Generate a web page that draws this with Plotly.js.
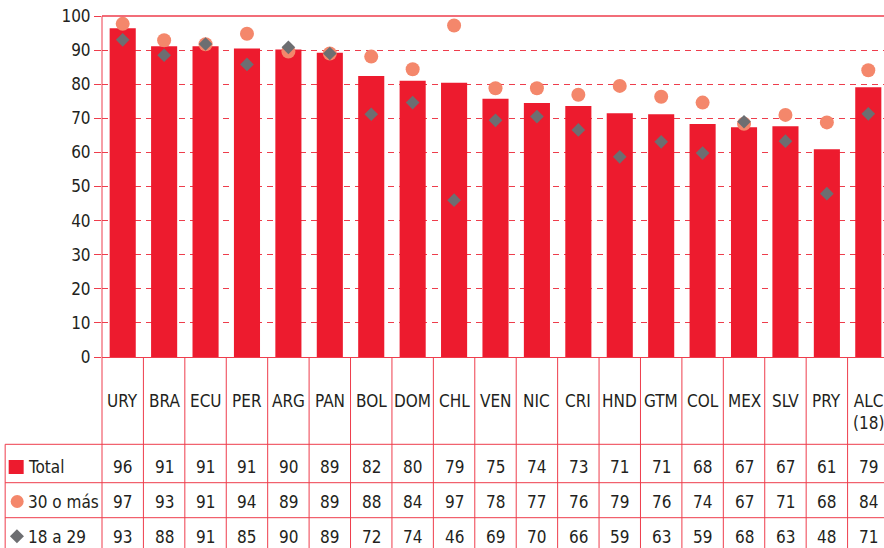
<!DOCTYPE html>
<html><head><meta charset="utf-8">
<script src="https://cdn.plot.ly/plotly-3.0.1.min.js"></script>
<style>html,body{margin:0;padding:0;background:#fff;overflow:hidden}</style>
</head><body><div id="chart" style="width:889px;height:548px"></div>
<script>
// ---- data ----
const categories = ['URY','BRA','ECU','PER','ARG','PAN','BOL','DOM','CHL','VEN','NIC','CRI','HND','GTM','COL','MEX','SLV','PRY','ALC (18)'];
const categoryLabels = ['URY','BRA','ECU','PER','ARG','PAN','BOL','DOM','CHL','VEN','NIC','CRI','HND','GTM','COL','MEX','SLV','PRY','ALC<br>(18)'];
const totalValues   = [96.4, 91.1, 91.1, 90.5, 90.2, 89.2, 82.4, 81.0, 80.4, 75.7, 74.5, 73.6, 71.5, 71.2, 68.3, 67.4, 67.7, 60.9, 79.1];
const olderValues   = [97.7, 92.9, 91.7, 94.8, 89.6, 89.0, 88.1, 84.4, 97.2, 78.8, 78.8, 76.9, 79.5, 76.3, 74.6, 68.4, 71.0, 68.8, 84.1];
const youngerValues = [93.0, 88.5, 91.8, 85.8, 90.8, 89.0, 71.2, 74.6, 46.0, 69.4, 70.5, 66.6, 58.7, 63.1, 59.8, 69.0, 63.3, 47.9, 71.3];
const tableTotal   = [96, 91, 91, 91, 90, 89, 82, 80, 79, 75, 74, 73, 71, 71, 68, 67, 67, 61, 79];
const tableOlder   = [97, 93, 91, 94, 89, 89, 88, 84, 97, 78, 77, 76, 79, 76, 74, 67, 71, 68, 84];
const tableYounger = [93, 88, 91, 85, 90, 89, 72, 74, 46, 69, 70, 66, 59, 63, 59, 68, 63, 48, 71];
const rowLabels = ['Total', '30 o más', '18 a 29'];
const yTicks = [0,10,20,30,40,50,60,70,80,90,100];

// ---- style ----
const RED = '#ED1B2E', SALMON = '#F4876B', GREY = '#6D6E71', LINE = '#EE3D4C', TXT = '#231F20';
const FONT = '"Liberation Sans Narrow", "Arial Narrow", "DejaVu Sans Condensed", sans-serif';
const W = 889, H = 548, L = 102.3, T = 16, B = 191;
const PW = W - L, PH = H - T - B;
const px2x = px => (px - L) / PW;
const py2y = py => (H - B - py) / PH;
const n = categories.length;

const shapes = [];
const annotations = [];
// top border
shapes.push({type:'line', xref:'paper', yref:'paper', x0:0, x1:1, y0:1, y1:1, line:{color:LINE, width:1.5}});
// left axis line through the table
shapes.push({type:'line', xref:'paper', yref:'paper', x0:0, x1:0, y0:1, y1:py2y(H), line:{color:LINE, width:1}});
// column separators in table
for (let i = 1; i < n; i++) {
  const xp = i / n;
  shapes.push({type:'line', xref:'paper', yref:'paper', x0:xp, x1:xp, y0:0, y1:py2y(H), line:{color:LINE, width:1}});
}
// row lines
[444.3, 482.7, 517.7].forEach(py => {
  shapes.push({type:'line', xref:'paper', yref:'paper', x0:px2x(5.5), x1:1, y0:py2y(py), y1:py2y(py), line:{color:LINE, width:1}});
});
// table left border
shapes.push({type:'line', xref:'paper', yref:'paper', x0:px2x(5.5), x1:px2x(5.5), y0:py2y(444.3), y1:py2y(H), line:{color:LINE, width:1}});
// legend symbols
shapes.push({type:'rect', xref:'paper', yref:'paper', x0:px2x(9), x1:px2x(24), y0:py2y(474), y1:py2y(460), fillcolor:RED, line:{width:0}});
shapes.push({type:'circle', xref:'paper', yref:'paper', x0:px2x(11), x1:px2x(24), y0:py2y(508), y1:py2y(495), fillcolor:SALMON, line:{width:0}});
{
  const cx = 17.3, cy = 536.3, r = 7;
  shapes.push({type:'path', xref:'paper', yref:'paper',
    path:`M ${px2x(cx)} ${py2y(cy-r)} L ${px2x(cx+r)} ${py2y(cy)} L ${px2x(cx)} ${py2y(cy+r)} L ${px2x(cx-r)} ${py2y(cy)} Z`,
    fillcolor:GREY, line:{width:0}});
}

// header labels
categories.forEach((c, i) => {
  annotations.push({xref:'x', yref:'paper', x:c, y:py2y(389), yanchor:'top', xanchor:'center',
    text:categoryLabels[i], showarrow:false, font:{family:FONT, size:17, color:TXT}});
});
// table values
const rows = [tableTotal, tableOlder, tableYounger];
const rowY = [466.7, 501.7, 536.7];
rows.forEach((arr, r) => {
  arr.forEach((v, i) => {
    annotations.push({xref:'x', yref:'paper', x:categories[i], y:py2y(rowY[r]), yanchor:'middle', xanchor:'center',
      text:String(v), showarrow:false, font:{family:FONT, size:17, color:TXT}});
  });
  annotations.push({xref:'paper', yref:'paper', x:px2x(26), y:py2y(rowY[r]), yanchor:'middle', xanchor:'left',
    text:rowLabels[r], showarrow:false, font:{family:FONT, size:17, color:TXT}});
});

const traces = [
  {type:'bar', x:categories, y:totalValues, marker:{color:RED}, width:0.63, name:'Total', hoverinfo:'y'},
  {type:'scatter', mode:'markers', x:categories, y:olderValues, marker:{color:SALMON, size:14, symbol:'circle'}, name:'30 o más'},
  {type:'scatter', mode:'markers', x:categories, y:youngerValues, marker:{color:GREY, size:10.5, symbol:'diamond'}, name:'18 a 29'}
];

const layout = {
  width:W, height:H,
  margin:{l:L, r:0, t:T, b:B, pad:0},
  paper_bgcolor:'#fff', plot_bgcolor:'#fff',
  showlegend:false,
  xaxis:{type:'category', range:[-0.5, n-0.5], showticklabels:false, ticks:'', showgrid:false,
    zeroline:false, showline:true, linecolor:LINE, linewidth:1, fixedrange:true},
  yaxis:{range:[0,100], tickvals:yTicks, ticks:'outside', ticklen:7, tickcolor:LINE, tickwidth:1,
    showgrid:true, gridcolor:LINE, griddash:'6px,5px', gridwidth:1, zeroline:false, showline:false,
    tickfont:{family:FONT, size:17, color:TXT}, fixedrange:true},
  shapes:shapes,
  annotations:annotations,
  font:{family:FONT, color:TXT}
};

Plotly.newPlot('chart', traces, layout, {displayModeBar:false, staticPlot:true});
</script>
</body></html>
